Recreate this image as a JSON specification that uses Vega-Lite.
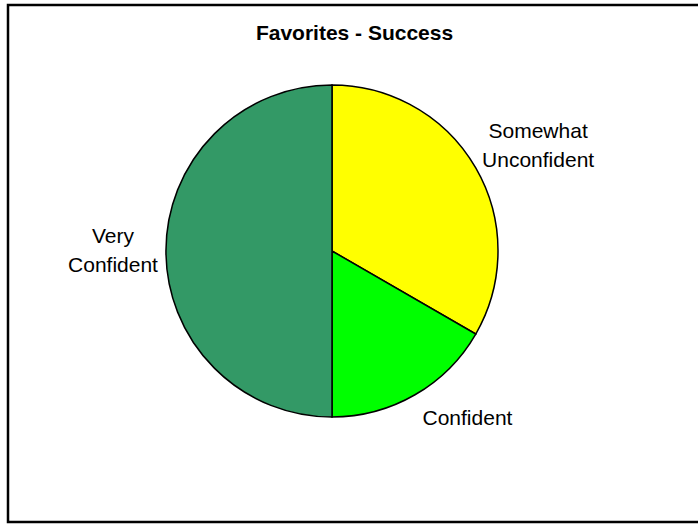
{
  "$schema": "https://vega.github.io/schema/vega-lite/v6.json",
  "width": 698,
  "height": 525,
  "autosize": {"type": "fit", "contains": "padding"},
  "padding": {"left": 6, "top": 3, "right": -5, "bottom": 1},
  "background": "white",
  "config": {"view": {"stroke": null}},
  "title": {
    "text": "Favorites - Success",
    "font": "Liberation Sans",
    "fontSize": 21,
    "fontWeight": "bold",
    "color": "black",
    "anchor": "middle",
    "frame": "group",
    "offset": -40
  },
  "layer": [
    {
      "data": {"values": [{"frame": 1}]},
      "mark": {"type": "rect", "fill": null, "stroke": "black", "strokeWidth": 2.5},
      "encoding": {}
    },
    {
      "data": {
        "values": [
          {"category": "Somewhat Unconfident", "value": 2, "order": 1},
          {"category": "Confident", "value": 1, "order": 2},
          {"category": "Very Confident", "value": 3, "order": 3}
        ]
      },
      "encoding": {
        "theta": {"field": "value", "type": "quantitative", "stack": true},
        "order": {"field": "order", "type": "quantitative"}
      },
      "layer": [
        {
          "mark": {
            "type": "arc",
            "outerRadius": 166,
            "stroke": "black",
            "strokeWidth": 1.5,
            "x": {"expr": "width/2 - 22.5"},
            "y": {"expr": "height/2 - 12.5"}
          },
          "encoding": {
            "color": {
              "field": "category",
              "type": "nominal",
              "scale": {
                "domain": ["Somewhat Unconfident", "Confident", "Very Confident"],
                "range": ["#FFFF00", "#00FF00", "#339966"]
              },
              "legend": null
            }
          }
        },
        {
          "mark": {
            "type": "text",
            "font": "Liberation Sans",
            "fontSize": 21,
            "color": "black",
            "lineBreak": " ",
            "lineHeight": 29,
            "x": {"expr": "width/2 - 22.5"},
            "y": {"expr": "height/2 - 12.5"},
            "radius": {"expr": "datum.category === 'Very Confident' ? 219 : (datum.category === 'Confident' ? 181 : 238)"},
            "align": {"expr": "datum.category === 'Confident' ? 'left' : 'center'"},
            "baseline": {"expr": "datum.category === 'Confident' ? 'top' : 'middle'"},
            "dy": {"expr": "datum.category === 'Very Confident' ? -14 : 0"}
          },
          "encoding": {
            "text": {"field": "category", "type": "nominal"}
          }
        }
      ]
    }
  ]
}
